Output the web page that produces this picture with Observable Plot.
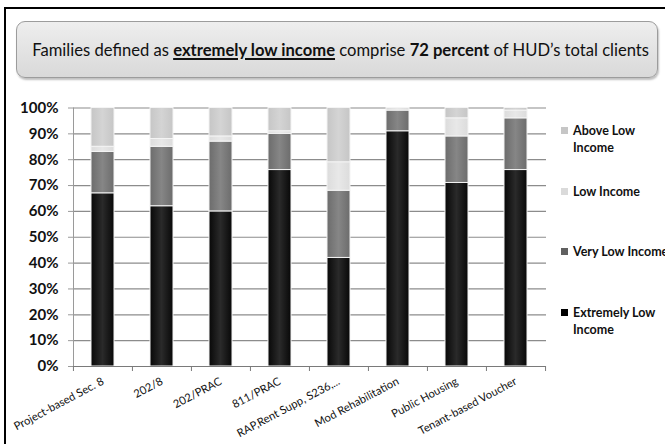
<!DOCTYPE html>
<html>
<head>
<meta charset="utf-8">
<script src="https://cdn.jsdelivr.net/npm/d3@7"></script>
<script src="https://cdn.jsdelivr.net/npm/@observablehq/plot@0.6"></script>
<style>
  html, body { margin: 0; padding: 0; background: #fff; }
  #wrap { position: relative; width: 665px; height: 444px; overflow: hidden; font-family: Lato, "Open Sans", sans-serif; }
  #border { position: absolute; left: 4px; top: 7px; width: 700px; height: 460px; border-top: 2px solid #000; border-left: 2px solid #000; }
  #title { position: absolute; left: 16px; top: 21px; width: 632px; padding-right: 8px; height: 55px; border: 1px solid #9c9c9c; border-radius: 9px;
           background: linear-gradient(#eeeeee, #d9d9d9); box-shadow: 1px 2px 2px rgba(0,0,0,0.25);
           display: flex; align-items: center; justify-content: flex-end; font-size: 16.6px; color: #111; white-space: nowrap; }
  #title b { font-weight: 700; }
  #title u { text-decoration-thickness: 2px; text-underline-offset: 2px; }
  #chart { position: absolute; left: 0; top: 0; }
  .legend { position: absolute; left: 560px; font-weight: 700; font-size: 12.5px; line-height: 17px; color: #111; white-space: nowrap; }
  .legend .sw { position: absolute; left: 1px; top: 5px; width: 7px; height: 7px; }
  .legend .tx { position: absolute; left: 13px; top: 0; }
</style>
</head>
<body>
<div id="wrap">
  <div id="chart"></div>
  <div id="border"></div>
  <div id="title">Families defined as&nbsp;<u><b>extremely low income</b></u>&nbsp;comprise&nbsp;<b>72 percent</b>&nbsp;of HUD’s total clients</div>
  <div id="legend"></div>
</div>
<script>
// HUD programs and the income mix of the families they serve (percent)
const categories = ["Project-based Sec. 8", "202/8", "202/PRAC", "811/PRAC", "RAP,Rent Supp, S236,...", "Mod Rehabilitation", "Public Housing", "Tenant-based Voucher"];
const seriesNames = ["Extremely Low Income", "Very Low Income", "Low Income", "Above Low Income"];
const extremelyLow = [67, 62, 60, 76, 42, 91, 71, 76];
const veryLow      = [16, 23, 27, 14, 26, 8, 18, 20];
const lowIncome    = [2, 3, 2, 1, 11, 1, 7, 3];
const aboveLow     = [15, 12, 11, 9, 21, 0, 4, 1];
const yTicks = [0, 10, 20, 30, 40, 50, 60, 70, 80, 90, 100];

const seriesValues = [extremelyLow, veryLow, lowIncome, aboveLow];
const rows = [];
categories.forEach((c, i) => {
  seriesNames.forEach((s, k) => rows.push({program: c, group: s, value: seriesValues[k][i]}));
});

// shaded fills for each income group (edge, centre)
const shades = [["#080808", "#2a2a2a"], ["#6c6c6c", "#868686"], ["#dcdcdc", "#e8e8e8"], ["#c6c6c6", "#d4d4d4"]];
const gradIds = seriesNames.map((_, k) => "incomeShade" + k);
const swatch = ["#000000", "#606060", "#dadada", "#c6c6c6"];

const plot = Plot.plot({
  width: 665,
  height: 444,
  marginTop: 107.5,
  marginBottom: 78,
  marginLeft: 73,
  marginRight: 119,
  style: {fontFamily: "Lato, 'Open Sans', sans-serif", background: "transparent", color: "#111"},
  x: {domain: categories, paddingInner: 0.61, paddingOuter: 0.305, label: null},
  y: {domain: [0, 100], label: null},
  color: {domain: seriesNames, range: gradIds.map(id => `url(#${id})`)},
  marks: [
    Plot.gridY(yTicks, {stroke: "#8c8c8c", strokeOpacity: 1, strokeWidth: 1.2}),
    Plot.frame({anchor: "left", stroke: "#9a9a9a"}),
    Plot.barY(rows, {x: "program", y: "value", fill: "group", stroke: "#f4f4f4", strokeWidth: 1}),
    Plot.ruleY([0], {stroke: "#7a7a7a", strokeWidth: 1.2}),
    Plot.axisY(yTicks, {tickSize: 5, tickPadding: 10, tickFormat: d => d + "%", fontSize: 15, fontWeight: "bold", stroke: "#9a9a9a"}),
    Plot.axisX({tickSize: 5, dx: -29.56, text: null, stroke: "#7a7a7a"}),
    Plot.axisX([categories[categories.length - 1]], {tickSize: 5, dx: 29.56, text: null, stroke: "#7a7a7a"}),
    Plot.axisX({tickSize: 0, tickPadding: 14, tickRotate: -28, fontSize: 11.2, fill: "#111"})
  ]
});

// gradient definitions referenced by the bar fills
const ns = "http://www.w3.org/2000/svg";
const defs = document.createElementNS(ns, "defs");
shades.forEach(([edge, mid], k) => {
  const g = document.createElementNS(ns, "linearGradient");
  g.setAttribute("id", gradIds[k]);
  g.setAttribute("x1", "0"); g.setAttribute("x2", "1"); g.setAttribute("y1", "0"); g.setAttribute("y2", "0");
  [[0, edge], [0.5, mid], [1, edge]].forEach(([o, c]) => {
    const st = document.createElementNS(ns, "stop");
    st.setAttribute("offset", o); st.setAttribute("stop-color", c);
    g.appendChild(st);
  });
  defs.appendChild(g);
});
plot.insertBefore(defs, plot.firstChild);
document.getElementById("chart").appendChild(plot);

// legend, top entry is the top of the stack
const legendTops = [304, 243, 183, 122];
const legendLines = [["Extremely Low", "Income"], ["Very Low Income"], ["Low Income"], ["Above Low", "Income"]];
const legend = document.getElementById("legend");
[3, 2, 1, 0].forEach(k => {
  const item = document.createElement("div");
  item.className = "legend";
  item.style.top = legendTops[k] + "px";
  item.innerHTML = `<div class="sw" style="background:${swatch[k]}"></div><div class="tx">${legendLines[k].join("<br>")}</div>`;
  legend.appendChild(item);
});
</script>
</body>
</html>
